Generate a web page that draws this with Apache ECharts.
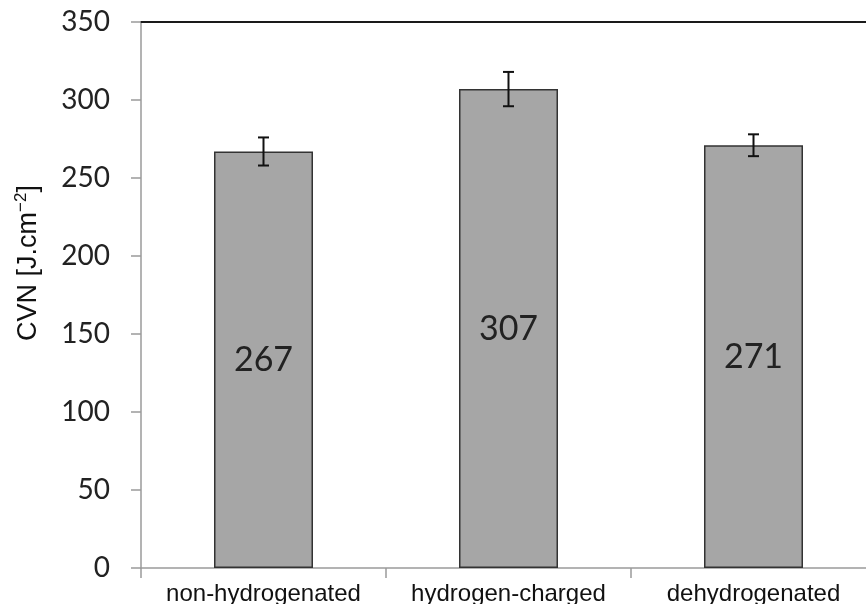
<!DOCTYPE html>
<html>
<head>
<meta charset="utf-8">
<style>
  html, body { margin: 0; padding: 0; background: #fff; }
  #chart { width: 866px; height: 604px; }
</style>
<script src="https://cdn.jsdelivr.net/npm/echarts@6/dist/echarts.min.js"></script>
</head>
<body>
<div id="chart"></div>
<script>
// Charpy impact energy per material condition
const categories = ['non-hydrogenated', 'hydrogen-charged', 'dehydrogenated'];
const cvnValues = [267, 307, 271];
const cvnErrLow = [258, 296, 264];
const cvnErrHigh = [276, 318, 278];
const yTicks = [0, 50, 100, 150, 200, 250, 300, 350];

const chart = echarts.init(document.getElementById('chart'), null, { renderer: 'canvas' });

const errorData = categories.map((c, i) => [i, cvnErrLow[i], cvnErrHigh[i]]);

const option = {
  animation: false,
  backgroundColor: '#ffffff',
  grid: { left: 141, right: -10, top: 22, bottom: 36, outerBoundsMode: 'none', containLabel: false },
  xAxis: [
    {
      type: 'category',
      data: categories,
      position: 'bottom',
      axisLine: { lineStyle: { color: '#9a9a9a', width: 1.5 } },
      axisTick: { show: true, alignWithLabel: false, length: 10, lineStyle: { color: '#9a9a9a', width: 1.5 } },
      axisLabel: { interval: 0, color: '#111', fontFamily: 'Liberation Sans', fontSize: 24, margin: 14, hideOverlap: false }
    },
    {
      type: 'category',
      data: categories,
      position: 'top',
      axisLine: { lineStyle: { color: '#1a1a1a', width: 2 } },
      axisTick: { show: false },
      axisLabel: { show: false }
    }
  ],
  yAxis: {
    type: 'value',
    min: yTicks[0],
    max: yTicks[yTicks.length - 1],
    interval: 50,
    axisLine: { show: true, lineStyle: { color: '#9a9a9a', width: 1.5 } },
    axisTick: { show: true, length: 10, lineStyle: { color: '#9a9a9a', width: 1.5 } },
    splitLine: { show: false },
    axisLabel: { color: '#222', fontFamily: 'Lato', fontSize: 28, margin: 31 }
  },
  graphic: [
    {
      type: 'text',
      x: 29,
      y: 263,
      rotation: Math.PI / 2,
      style: {
        text: '{a|CVN [J.cm}{s|−2}{a|]}',
        align: 'center',
        verticalAlign: 'middle',
        fill: '#111',
        rich: {
          a: { fontFamily: 'Liberation Sans', fontSize: 27, lineHeight: 32, fill: '#111', color: '#111' },
          s: { fontFamily: 'Liberation Sans', fontSize: 17, lineHeight: 32, verticalAlign: 'top', fill: '#111', color: '#111' }
        }
      }
    }
  ],
  series: [
    {
      type: 'bar',
      data: cvnValues,
      barWidth: 99,
      itemStyle: { color: '#a6a6a6', borderColor: '#333', borderWidth: 1.5 },
      label: {
        show: true,
        position: 'inside',
        color: '#222',
        fontFamily: 'Lato',
        fontSize: 34
      },
      z: 2
    },
    {
      type: 'custom',
      data: errorData,
      z: 5,
      renderItem: function (params, api) {
        const x = api.value(0);
        const lo = api.coord([x, api.value(1)]);
        const hi = api.coord([x, api.value(2)]);
        const cap = 5.5;
        const style = { stroke: '#111', lineWidth: 2 };
        return {
          type: 'group',
          children: [
            { type: 'line', shape: { x1: lo[0], y1: lo[1], x2: hi[0], y2: hi[1] }, style: style },
            { type: 'line', shape: { x1: hi[0] - cap, y1: hi[1], x2: hi[0] + cap, y2: hi[1] }, style: style },
            { type: 'line', shape: { x1: lo[0] - cap, y1: lo[1], x2: lo[0] + cap, y2: lo[1] }, style: style }
          ]
        };
      }
    }
  ]
};

chart.setOption(option);
</script>
</body>
</html>
